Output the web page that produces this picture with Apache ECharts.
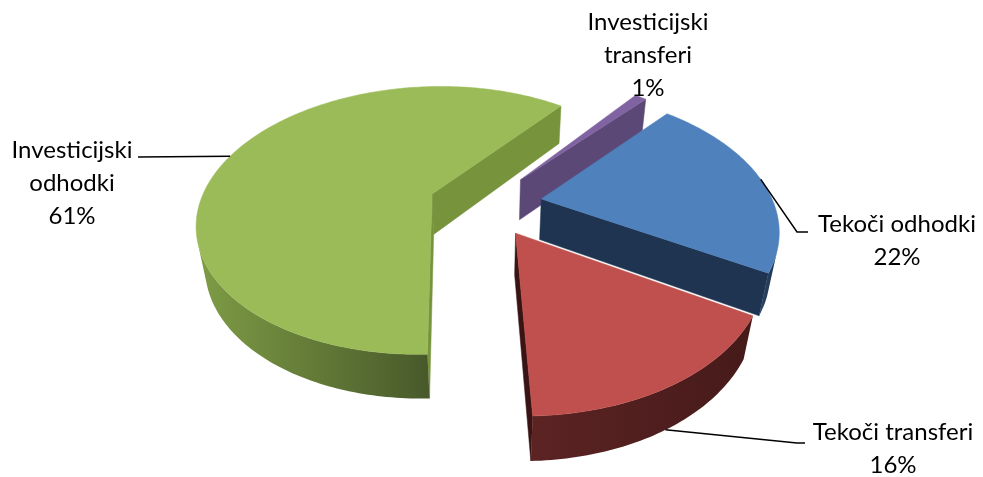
<!DOCTYPE html>
<html>
<head>
<meta charset="utf-8">
<script src="https://cdn.jsdelivr.net/npm/echarts@6/dist/echarts.min.js"></script>
<style>
  html, body { margin: 0; padding: 0; background: #fff; }
  #main { width: 983px; height: 477px; }
</style>
</head>
<body>
<div id="main"></div>
<script>
var categories = ['Tekoči odhodki', 'Tekoči transferi', 'Investicijski odhodki', 'Investicijski transferi'];
var shares = [22, 16, 61, 1];

var topColors = ['#4F81BD', '#C0504D', '#9BBB59', '#8064A2'];
var wallColors = [['#2A4466', '#1F3450'], ['#5C2323', '#461A1A'], ['#7E9C45', '#48592A'], ['#5F4B7A', '#4F3D66']];
var cutColors = ['#1F3450', '#3A1414', '#77933C', '#5C4876'];

// where Excel put the labels (text centre, end of leader line)
var labelPos = [
    { x: 897, y: 241, wrap: false, end: [808, 232], elbow: [797, 232], fromBottom: false },
    { x: 893, y: 449, wrap: false, end: [805, 443], elbow: [797, 443], fromBottom: true },
    { x: 72, y: 183, wrap: true, end: [138, 157], elbow: null, fromBottom: false },
    { x: 648, y: 55, wrap: true, end: null, elbow: null, fromBottom: false }
];

// 3d view settings
var startAngle = 41.5;   // degrees, clockwise from back
var tilt = 34.8 * Math.PI / 180;
var camDist = 4.1;
var thick = 0.22;
var explode = 0.245;

var total = shares.reduce(function (a, b) { return a + b; }, 0);
var angles = [];
var acc = startAngle;
shares.forEach(function (v) {
    var span = v / total * 360;
    angles.push([acc, acc + span]);
    acc += span;
});

var chart = echarts.init(document.getElementById('main'));

function renderItem(params, api) {
    var i = params.dataIndex;
    var W = api.getWidth(), H = api.getHeight();
    var cx = W * 0.4938, cy = H * 0.4275, S = W * 0.2365;
    var sinA = Math.sin(tilt), cosA = Math.cos(tilt);

    function proj(X, Y, Z) {
        var yc = Y * cosA - Z * sinA;
        var zc = Y * sinA + Z * cosA;
        var s = camDist / (camDist - zc);
        return { p: [cx + X * s * S, cy - yc * s * S], z: zc };
    }

    var a0 = angles[i][0], a1 = angles[i][1];
    var mid = (a0 + a1) / 2 * Math.PI / 180;
    var ox = explode * Math.sin(mid), oz = -explode * Math.cos(mid);

    function rim(deg, y) {
        var t = deg * Math.PI / 180;
        return proj(ox + Math.sin(t), y, oz - Math.cos(t));
    }
    var apexT = proj(ox, 0, oz), apexB = proj(ox, -thick, oz);

    function area(pts) {
        var s = 0;
        for (var k = 0; k < pts.length; k++) {
            var p = pts[k], q = pts[(k + 1) % pts.length];
            s += p[0] * q[1] - q[0] * p[1];
        }
        return s;
    }
    function depth(list) {
        var s = 0;
        list.forEach(function (o) { s += o.z; });
        return s / list.length;
    }

    var children = [];
    var steps = Math.max(2, Math.ceil(a1 - a0));
    var tops = [], bots = [];
    for (var k = 0; k <= steps; k++) {
        var d = a0 + (a1 - a0) * k / steps;
        tops.push(rim(d, 0));
        bots.push(rim(d, -thick));
    }

    // outer wall, only the parts facing the camera
    var run = null;
    function flush() {
        if (!run) return;
        var tp = run.map(function (j) { return tops[j]; });
        var bp = run.map(function (j) { return bots[j]; }).reverse();
        var pts = tp.concat(bp).map(function (o) { return o.p; });
        var xs = pts.map(function (p) { return p[0]; });
        var minX = Math.min.apply(null, xs), maxX = Math.max.apply(null, xs);
        children.push({
            type: 'polygon',
            z2: 10 + depth(tp.concat(bp)) * 10,
            shape: { points: pts },
            style: {
                fill: {
                    type: 'linear', x: minX, y: 0, x2: maxX, y2: 0, global: true,
                    colorStops: [{ offset: 0, color: wallColors[i][0] }, { offset: 1, color: wallColors[i][1] }]
                },
                stroke: null
            }
        });
        run = null;
    }
    for (var k = 0; k < steps; k++) {
        var q = [tops[k].p, tops[k + 1].p, bots[k + 1].p, bots[k].p];
        if (area(q) < 0) {
            if (!run) run = [k];
            run.push(k + 1);
        } else {
            flush();
        }
    }
    flush();

    // cut walls
    var sT = tops[0], sB = bots[0], eT = tops[steps], eB = bots[steps];
    var startWall = [apexT, sT, sB, apexB];
    var endWall = [eT, apexT, apexB, eB];
    [startWall, endWall].forEach(function (w) {
        var pts = w.map(function (o) { return o.p; });
        if (area(pts) < 0) {
            children.push({
                type: 'polygon',
                z2: 10 + depth(w) * 10,
                shape: { points: pts },
                style: { fill: cutColors[i], stroke: cutColors[i], lineWidth: 0.5 }
            });
        }
    });

    // top face
    var topPts = [apexT.p].concat(tops.map(function (o) { return o.p; }));
    children.push({
        type: 'polygon',
        z2: 100,
        shape: { points: topPts },
        style: { fill: topColors[i], stroke: topColors[i], lineWidth: 0.5 }
    });

    // label and leader line
    var lp = labelPos[i];
    var pct = Math.round(api.value(1) / total * 100) + '%';
    var name = categories[i];
    var txt = (lp.wrap ? name.replace(' ', '\n') : name) + '\n' + pct;
    children.push({
        type: 'text',
        z2: 200,
        style: {
            text: txt, x: lp.x, y: lp.y,
            fill: '#000', fontFamily: 'Lato', fontSize: 24, lineHeight: 33,
            align: 'center', verticalAlign: 'middle'
        }
    });
    if (lp.end) {
        var md = (a0 + a1) / 2;
        var anchor = rim(md, lp.fromBottom ? -thick : 0).p;
        var line = [anchor];
        if (lp.elbow) line.push(lp.elbow);
        line.push(lp.end);
        children.push({
            type: 'polyline',
            z2: 150,
            shape: { points: line },
            style: { stroke: '#000', lineWidth: 1.5, fill: null }
        });
    }

    return { type: 'group', children: children };
}

chart.setOption({
    backgroundColor: '#fff',
    animation: false,
    series: [{
        type: 'custom',
        coordinateSystem: 'none',
        renderItem: renderItem,
        data: shares.map(function (v, i) { return [i, v]; })
    }]
});
</script>
</body>
</html>
